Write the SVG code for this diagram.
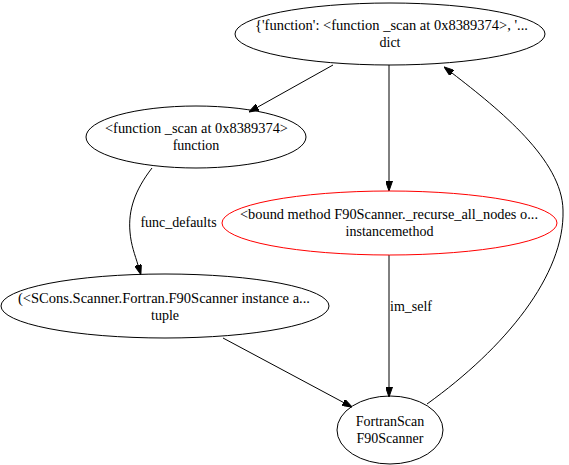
<svg xmlns="http://www.w3.org/2000/svg" width="569" height="465" viewBox="0 0 569 465">
<defs>
<style>
.n ellipse{fill:none;stroke:#000;stroke-width:1}
.n.red ellipse{stroke:#ff0000}
text{font-family:"Liberation Serif","Times New Roman",serif;font-size:14px;fill:#000;text-anchor:middle}
.e path{fill:none;stroke:#000;stroke-width:1}
</style>
<marker id="arr" markerUnits="userSpaceOnUse" markerWidth="10" markerHeight="7" refX="0" refY="3.5" orient="auto">
<path d="M0,0 L10,3.5 L0,7 Z" fill="#000" stroke="#000" stroke-width="1"/>
</marker>
</defs>
<rect width="569" height="465" fill="#fff"/>
<g id="edges" class="e">
<path d="M333,65 L257.7,107.1" marker-end="url(#arr)"/>
<path d="M389,65 L389,181" marker-end="url(#arr)"/>
<path d="M152,168 C135,190 128,210 130,232 C131,245 135,255 138,265" marker-end="url(#arr)"/>
<text x="178.5" y="227">func_defaults</text>
<path d="M389,255 L389,387" marker-end="url(#arr)"/>
<text x="411" y="311">im_self</text>
<path d="M223,338 L343.2,402.3" marker-end="url(#arr)"/>
<path d="M427,404 C505,348 565,275 563,210 C562,160 500,110 452,73" marker-end="url(#arr)"/>
</g>
<g id="node_dict" class="n">
<ellipse cx="390" cy="34" rx="155" ry="31"/>
<text x="391.5" y="29.7" textLength="273" lengthAdjust="spacingAndGlyphs">{'function': &lt;function _scan at 0x8389374&gt;, '...</text>
<text x="390" y="46.7">dict</text>
</g>
<g id="node_function" class="n">
<ellipse cx="196" cy="137" rx="110" ry="31"/>
<text x="196.5" y="132.7" textLength="183" lengthAdjust="spacingAndGlyphs">&lt;function _scan at 0x8389374&gt;</text>
<text x="196" y="149.7">function</text>
</g>
<g id="node_instancemethod" class="n red">
<ellipse cx="389.5" cy="223" rx="167.5" ry="32"/>
<text x="389" y="218.7" textLength="298" lengthAdjust="spacingAndGlyphs">&lt;bound method F90Scanner._recurse_all_nodes o...</text>
<text x="389.5" y="235.7">instancemethod</text>
</g>
<g id="node_tuple" class="n">
<ellipse cx="165" cy="306" rx="164" ry="32"/>
<text x="164" y="302.7" textLength="292" lengthAdjust="spacingAndGlyphs">(&lt;SCons.Scanner.Fortran.F90Scanner instance a...</text>
<text x="165" y="319.7">tuple</text>
</g>
<g id="node_fortranscan" class="n">
<ellipse cx="390" cy="430" rx="53" ry="34"/>
<text x="390" y="425.7">FortranScan</text>
<text x="390" y="442.7">F90Scanner</text>
</g>
</svg>
